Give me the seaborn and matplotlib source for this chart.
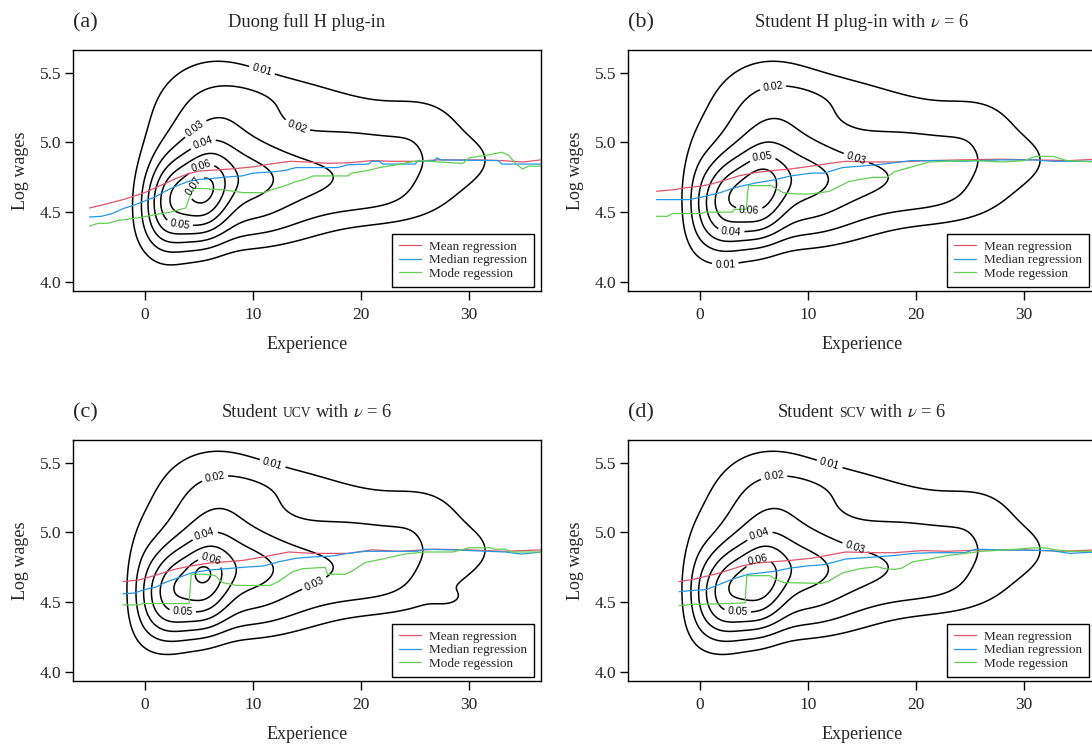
import numpy as np
import matplotlib
matplotlib.use("Agg")
import matplotlib.pyplot as plt
import seaborn as sns

sns.set_theme(style="ticks")
plt.rcParams["font.family"] = ["Liberation Serif", "DejaVu Serif"]
plt.rcParams["mathtext.fontset"] = "stix"

RED = "#DF536B"
BLUE = "#2297E6"
GREEN = "#61D04F"

comp_x = [2.2, -0.3, 5.6, 9.0, 12.0, 6.5, 9.5, 22.0, 30.0, 19.0, 13.0, 26.0, 22.0, 28.0, 5.3]
comp_y = [4.57, 4.62, 4.62, 4.68, 4.71, 5.15, 4.38, 4.78, 4.90, 5.15, 5.35, 5.15, 4.55, 4.53, 4.72]
comp_sx = [1.8, 1.2, 1.7, 2.5, 5.0, 4.2, 5.0, 6.0, 3.0, 6.0, 4.0, 2.5, 4.0, 1.0, 0.7]
comp_sy = [0.24, 0.30, 0.23, 0.20, 0.22, 0.32, 0.14, 0.22, 0.15, 0.20, 0.12, 0.15, 0.12, 0.04, 0.05]
comp_rho = [0.1, 0.0, 0.1, 0.0, 0.0, 0.0, 0.2, 0.0, 0.0, 0.0, 0.0, 0.0, 0.0, 0.0, 0.0]

heights_a = [0.046, 0, 0.043, 0.012, 0.024, 0.024, 0.011, 0.019, 0.005, 0.011, 0.006, 0.006, 0.006, 0, 0]
heights_b = [0.044, 0.008, 0.038, 0.012, 0.024, 0.024, 0.011, 0.019, 0.005, 0.011, 0.006, 0.006, 0.006, 0, 0]
heights_c = [0.044, 0.008, 0.038, 0.012, 0.024, 0.024, 0.011, 0.019, 0.005, 0.011, 0.006, 0.006, 0.006, 0.005, 0.007]
heights_d = [0.044, 0.008, 0.038, 0.012, 0.024, 0.024, 0.011, 0.019, 0.005, 0.011, 0.006, 0.006, 0.006, 0, 0]

levels = [0.01, 0.02, 0.03, 0.04, 0.05, 0.06, 0.07]

# regression curves
mean_x_a = [-5.1, -4, -3, -2, -1, 0, 1, 2, 3, 4, 5, 6, 8, 10, 12, 13.5, 15, 17, 19, 21, 23, 25, 27, 29, 31, 33, 35, 36.6]
mean_y_a = [4.53, 4.55, 4.57, 4.59, 4.615, 4.64, 4.675, 4.71, 4.745, 4.775, 4.795, 4.80, 4.81, 4.825, 4.85, 4.865, 4.86, 4.85, 4.855, 4.87, 4.865, 4.865, 4.875, 4.875, 4.875, 4.87, 4.86, 4.875]
med_x_a = [-5.1, -4, -3, -2, -1, 0, 1, 2, 3, 4, 5, 6, 8, 9, 10, 12, 13, 14, 17.8, 18.8, 20.7, 21, 21.7, 22, 25, 25.2, 26.8, 27, 27.4, 32.7, 33, 36.6]
med_y_a = [4.465, 4.47, 4.49, 4.525, 4.55, 4.58, 4.61, 4.655, 4.69, 4.72, 4.735, 4.74, 4.755, 4.76, 4.78, 4.79, 4.80, 4.82, 4.82, 4.84, 4.845, 4.865, 4.865, 4.845, 4.845, 4.865, 4.87, 4.89, 4.875, 4.87, 4.845, 4.845]
mode_x_a = [-5.1, -4.3, -3.4, -2.5, -1.5, -0.5, 0.5, 1.5, 2.4, 3.3, 3.8, 4.1, 4.5, 5.3, 7.2, 8.2, 9.1, 11, 11.7, 13, 14, 14.6, 15.6, 18.8, 19.1, 20.7, 21.7, 23.3, 24.6, 25.6, 27.2, 29.4, 30, 31.7, 33, 33.6, 34.3, 34.9, 35.5, 36.6]
mode_y_a = [4.40, 4.42, 4.42, 4.44, 4.45, 4.46, 4.475, 4.49, 4.50, 4.52, 4.53, 4.60, 4.67, 4.67, 4.66, 4.65, 4.64, 4.64, 4.66, 4.69, 4.72, 4.73, 4.76, 4.76, 4.78, 4.80, 4.82, 4.84, 4.86, 4.87, 4.86, 4.85, 4.89, 4.91, 4.93, 4.91, 4.85, 4.81, 4.83, 4.83]

mean_x_b = [-4.0, -2.5, -1.3, 0, 1, 1.9, 3, 3.6, 5.2, 7, 8.4, 10.3, 12, 13.5, 16, 18, 21.3, 24, 27.7, 31, 34.2, 36.6]
mean_y_b = [4.65, 4.66, 4.675, 4.686, 4.70, 4.72, 4.745, 4.76, 4.785, 4.80, 4.81, 4.83, 4.85, 4.865, 4.86, 4.86, 4.87, 4.875, 4.88, 4.875, 4.87, 4.88]
med_x_b = [-4.0, -1.0, 0.3, 1.9, 3.2, 5.2, 6.8, 8.4, 10.3, 11.5, 13.2, 14.8, 16.4, 18, 19.6, 22, 24.5, 27.7, 31, 32.6, 36.6]
med_y_b = [4.59, 4.59, 4.61, 4.64, 4.675, 4.71, 4.73, 4.76, 4.78, 4.78, 4.82, 4.83, 4.84, 4.855, 4.87, 4.87, 4.865, 4.875, 4.875, 4.865, 4.865]
mode_x_b = [-4.0, -3.0, -2.5, 0, 0.5, 3.0, 3.2, 4.3, 4.5, 6.6, 7.7, 9, 10.2, 11.2, 12, 13.8, 16, 17.3, 18, 21.2, 24.4, 25.4, 28, 30, 31, 32.7, 33.9, 36.6]
mode_y_b = [4.47, 4.47, 4.49, 4.49, 4.50, 4.50, 4.52, 4.52, 4.69, 4.69, 4.64, 4.63, 4.63, 4.64, 4.65, 4.72, 4.75, 4.75, 4.79, 4.86, 4.87, 4.87, 4.86, 4.87, 4.90, 4.90, 4.87, 4.86]

mean_x_c = [-2.0, -0.5, 1.1, 2.7, 4.3, 5.9, 9.1, 11, 13.3, 15.6, 18.8, 21, 23.6, 26.9, 30, 33.3, 36.6]
mean_y_c = [4.647, 4.66, 4.695, 4.735, 4.76, 4.78, 4.80, 4.825, 4.86, 4.85, 4.85, 4.875, 4.865, 4.88, 4.875, 4.865, 4.875]
med_x_c = [-2.0, -1.0, 0, 1.1, 2, 3.3, 4.3, 5.9, 9.1, 11, 12.4, 14, 15.6, 17.2, 18.8, 20.4, 25.2, 25.9, 28.5, 31.7, 33.3, 34.9, 36.6]
med_y_c = [4.56, 4.565, 4.59, 4.61, 4.645, 4.68, 4.71, 4.73, 4.75, 4.76, 4.79, 4.815, 4.825, 4.83, 4.85, 4.865, 4.865, 4.88, 4.875, 4.865, 4.86, 4.845, 4.86]
mode_x_c = [-2.0, -0.5, -0.2, 4.1, 4.3, 5.6, 6.5, 7.2, 8.5, 11.6, 12.4, 13.7, 14.6, 16.7, 16.9, 18.5, 19.1, 20.4, 22, 24, 25.9, 28.5, 30, 32, 32.3, 33.3, 33.9, 36.6]
mode_y_c = [4.48, 4.48, 4.49, 4.49, 4.70, 4.70, 4.69, 4.64, 4.62, 4.62, 4.65, 4.72, 4.74, 4.75, 4.70, 4.70, 4.72, 4.785, 4.81, 4.845, 4.86, 4.86, 4.89, 4.89, 4.88, 4.88, 4.86, 4.86]

mean_x_d = [-1.9, -0.5, 1.9, 3.9, 5.2, 8.4, 10.3, 13.5, 16.4, 18, 20.6, 22.9, 26.1, 30, 33.5, 36.6]
mean_y_d = [4.647, 4.665, 4.71, 4.76, 4.78, 4.80, 4.815, 4.86, 4.855, 4.855, 4.87, 4.865, 4.875, 4.875, 4.865, 4.875]
med_x_d = [-1.9, -0.5, 0.6, 1.9, 3.2, 4.5, 6.8, 8.4, 10, 11.6, 13.5, 16.4, 18, 19.7, 21.3, 24.5, 25.5, 28, 32.5, 34.2, 36.6]
med_y_d = [4.575, 4.585, 4.59, 4.63, 4.67, 4.70, 4.72, 4.745, 4.76, 4.77, 4.81, 4.825, 4.835, 4.85, 4.855, 4.855, 4.88, 4.875, 4.87, 4.85, 4.86]
mode_x_d = [-1.9, -0.5, 0.3, 2.6, 4.2, 4.35, 6.5, 7.1, 7.75, 11.3, 11.9, 13.2, 14.8, 16.4, 17.1, 18, 18.7, 19.7, 21.3, 22.9, 24.5, 26.1, 29.3, 30.9, 31.9, 32.9, 34.2, 36.6]
mode_y_d = [4.475, 4.485, 4.485, 4.49, 4.495, 4.69, 4.69, 4.66, 4.64, 4.635, 4.65, 4.71, 4.74, 4.755, 4.74, 4.735, 4.745, 4.79, 4.81, 4.835, 4.85, 4.865, 4.88, 4.89, 4.89, 4.875, 4.865, 4.865]

# contour label spots
labels_a = [(10.7, 5.48), (13.8, 5.05), (4.5, 5.12), (5.4, 4.99), (3.2, 4.38), (5.3, 4.81), (4.6, 4.68)]
labels_b = [(6.9, 5.31), (14.4, 4.87), (5.8, 4.90), (4.6, 4.53), (2.9, 4.36), (2.35, 4.14)]
labels_c = [(11.7, 5.46), (6.7, 5.30), (5.6, 4.975), (6.2, 4.83), (15.7, 4.63), (3.5, 4.43)]
labels_d = [(11.9, 5.46), (7.0, 5.30), (5.6, 4.97), (14.3, 4.88), (5.5, 4.78), (3.5, 4.43)]


def density(X, Y, heights):
    Z = np.zeros_like(X)
    for cx, cy, sx, sy, r, h in zip(comp_x, comp_y, comp_sx, comp_sy, comp_rho, heights):
        dx = (X - cx) / sx
        dy = (Y - cy) / sy
        q = (dx ** 2 - 2 * r * dx * dy + dy ** 2) / (1 - r ** 2)
        Z += h * np.exp(-0.5 * q)
    return Z


def draw_panel(ax, heights, label_pos, mean, med, mode):
    gx = np.linspace(-8, 40, 480)
    gy = np.linspace(3.8, 5.8, 320)
    X, Y = np.meshgrid(gx, gy)
    Z = density(X, Y, heights)
    cs = ax.contour(X, Y, Z, levels=levels, colors="black", linewidths=1.1)
    txts = ax.clabel(cs, inline=True, fontsize=7.5, fmt="%.2f", manual=label_pos, inline_spacing=3)
    for t in txts:
        t.set_family("Liberation Sans")
    sns.lineplot(x=mean[0], y=mean[1], ax=ax, color=RED, lw=0.9, sort=False,
                 estimator=None, label="Mean regression")
    sns.lineplot(x=med[0], y=med[1], ax=ax, color=BLUE, lw=0.9, sort=False,
                 estimator=None, label="Median regression")
    sns.lineplot(x=mode[0], y=mode[1], ax=ax, color=GREEN, lw=0.9, sort=False,
                 estimator=None, label="Mode regession")
    ax.set_xlim(-6.6, 36.6)
    ax.set_ylim(3.936, 5.664)
    ax.set_xticks([0, 10, 20, 30])
    ax.set_yticks([4.0, 4.5, 5.0, 5.5])
    ax.set_yticklabels(["4.0", "4.5", "5.0", "5.5"])
    ax.tick_params(axis="x", length=6.3, width=1, pad=5.5, labelsize=12.5, color="black")
    ax.tick_params(axis="y", length=5.5, width=1, pad=3, labelsize=12.5, color="black")
    for s in ax.spines.values():
        s.set_color("black")
        s.set_linewidth(1.0)
    ax.set_xlabel("Experience", fontsize=13, labelpad=9)
    ax.set_ylabel("Log wages", fontsize=13, labelpad=8)
    leg = ax.legend(loc="lower right", bbox_to_anchor=(0.985, 0.017), borderaxespad=0,
                    frameon=True, fancybox=False, edgecolor="black", framealpha=1,
                    fontsize=9.5, handlelength=1.7, handletextpad=0.6,
                    labelspacing=0.1, borderpad=0.5)
    leg.get_frame().set_linewidth(1.0)


fig = plt.figure(figsize=(10.92, 7.46), dpi=100)
W, H = 467.4 / 1092, 240.7 / 746
ax_a = fig.add_axes([73.3 / 1092, 0.61032, W, H])
ax_b = fig.add_axes([628.3 / 1092, 0.61032, W, H])
ax_c = fig.add_axes([73.3 / 1092, 0.08753, W, H])
ax_d = fig.add_axes([628.3 / 1092, 0.08753, W, H])

draw_panel(ax_a, heights_a, labels_a, (mean_x_a, mean_y_a), (med_x_a, med_y_a), (mode_x_a, mode_y_a))
draw_panel(ax_b, heights_b, labels_b, (mean_x_b, mean_y_b), (med_x_b, med_y_b), (mode_x_b, mode_y_b))
draw_panel(ax_c, heights_c, labels_c, (mean_x_c, mean_y_c), (med_x_c, med_y_c), (mode_x_c, mode_y_c))
draw_panel(ax_d, heights_d, labels_d, (mean_x_d, mean_y_d), (med_x_d, med_y_d), (mode_x_d, mode_y_d))

# titles: pieces of (text, size, gap before in pixels)
TS = 13.3
titles = [
    (ax_a, "(a)", [("Duong full H plug-in", TS, 0)], 0.9642),
    (ax_b, "(b)", [("Student H plug-in with", TS, 0), (r"$\nu$ = 6", TS, 4.5)], 0.9642),
    (ax_c, "(c)", [("Student", TS, 0), ("UCV", 9.8, 4.5), ("with", TS, 4.5), (r"$\nu$ = 6", TS, 4.5)], 0.4414),
    (ax_d, "(d)", [("Student", TS, 0), ("SCV", 9.8, 4.5), ("with", TS, 4.5), (r"$\nu$ = 6", TS, 4.5)], 0.4414),
]

placed = []
for ax, tag, pieces, yb in titles:
    pos = ax.get_position()
    fig.text(pos.x0, yb - 0.0017, tag, fontsize=16, ha="left", va="baseline")
    parts = [(fig.text(0, yb, txt, fontsize=size, ha="left", va="baseline"), gap)
             for txt, size, gap in pieces]
    placed.append((ax, parts))

fig.canvas.draw()
r = fig.canvas.get_renderer()
figw = fig.bbox.width
for ax, parts in placed:
    widths = [t.get_window_extent(r).width for t, _ in parts]
    total = sum(widths) + sum(g for _, g in parts)
    pos = ax.get_position()
    x = (pos.x0 + pos.width / 2) * figw - total / 2
    for (t, gap), w in zip(parts, widths):
        x += gap
        t.set_x(x / figw)
        x += w

fig.savefig("out.png", dpi=100)
